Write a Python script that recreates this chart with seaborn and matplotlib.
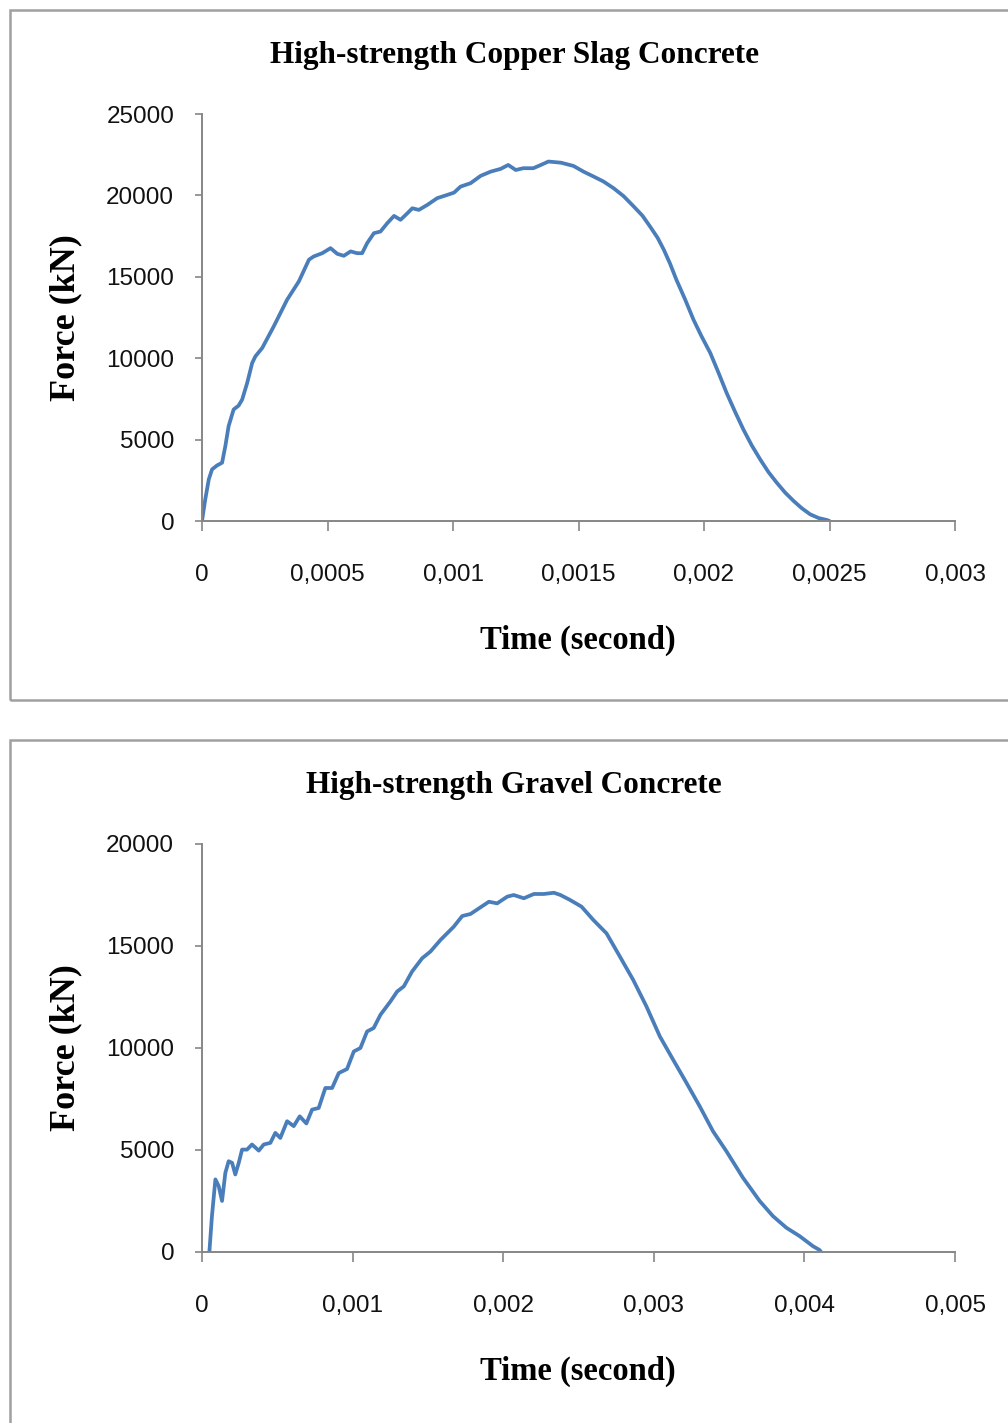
import matplotlib
matplotlib.use("Agg")
import matplotlib.pyplot as plt
from matplotlib.patches import Rectangle
from matplotlib.ticker import FixedLocator
import pandas as pd
import seaborn as sns

# Copper slag concrete: impact force history
cs_time = [0, 1.3e-5, 2.7e-5, 4.0e-5, 6.0e-5, 8.0e-5, 9.3e-5, 1.06e-4, 1.26e-4, 1.46e-4,
           1.60e-4, 1.80e-4, 2.00e-4, 2.13e-4, 2.40e-4, 2.86e-4, 3.39e-4, 3.86e-4, 4.26e-4,
           4.45e-4, 4.79e-4, 5.12e-4, 5.39e-4, 5.65e-4, 5.92e-4, 6.18e-4, 6.38e-4, 6.58e-4,
           6.85e-4, 7.11e-4, 7.38e-4, 7.65e-4, 7.91e-4, 8.18e-4, 8.38e-4, 8.64e-4, 8.98e-4,
           9.37e-4, 9.77e-4, 1.004e-3, 1.03e-3, 1.07e-3, 1.11e-3, 1.15e-3, 1.19e-3, 1.22e-3,
           1.25e-3, 1.28e-3, 1.32e-3, 1.35e-3, 1.38e-3, 1.43e-3, 1.48e-3, 1.52e-3, 1.56e-3,
           1.60e-3, 1.64e-3, 1.68e-3, 1.72e-3, 1.755e-3, 1.785e-3, 1.815e-3, 1.84e-3, 1.865e-3,
           1.89e-3, 1.925e-3, 1.958e-3, 1.99e-3, 2.025e-3, 2.058e-3, 2.09e-3, 2.124e-3,
           2.157e-3, 2.19e-3, 2.224e-3, 2.257e-3, 2.29e-3, 2.323e-3, 2.357e-3, 2.39e-3,
           2.423e-3, 2.457e-3, 2.49e-3, 2.50e-3]
cs_force = [0, 1330, 2555, 3170, 3414, 3580, 4600, 5825, 6850, 7090,
            7460, 8480, 9710, 10120, 10630, 11960, 13590, 14720, 16050,
            16250, 16450, 16760, 16410, 16290, 16560, 16450, 16450, 17070,
            17680, 17780, 18290, 18740, 18500, 18900, 19210, 19110, 19420,
            19830, 20030, 20170, 20540, 20750, 21200, 21460, 21630, 21870,
            21560, 21670, 21670, 21870, 22080, 22010, 21810, 21460, 21160,
            20850, 20440, 19950, 19320, 18750, 18090, 17400, 16660, 15800,
            14820, 13600, 12370, 11350, 10320, 9100, 7870, 6700,
            5620, 4650, 3780, 3000, 2350, 1750, 1230, 780,
            410, 180, 60, 0]

# Gravel concrete: impact force history
gr_time = [4.9e-5, 6.6e-5, 8.9e-5, 1.11e-4, 1.33e-4, 1.55e-4, 1.77e-4, 2.00e-4, 2.21e-4,
           2.44e-4, 2.66e-4, 2.99e-4, 3.32e-4, 3.77e-4, 4.10e-4, 4.54e-4, 4.87e-4, 5.20e-4,
           5.65e-4, 6.09e-4, 6.49e-4, 6.93e-4, 7.31e-4, 7.75e-4, 8.19e-4, 8.64e-4, 9.08e-4,
           9.63e-4, 1.008e-3, 1.052e-3, 1.096e-3, 1.14e-3, 1.185e-3, 1.251e-3, 1.296e-3,
           1.34e-3, 1.395e-3, 1.462e-3, 1.517e-3, 1.584e-3, 1.672e-3, 1.728e-3, 1.783e-3,
           1.85e-3, 1.905e-3, 1.96e-3, 2.027e-3, 2.07e-3, 2.137e-3, 2.204e-3, 2.27e-3,
           2.337e-3, 2.38e-3, 2.443e-3, 2.52e-3, 2.598e-3, 2.686e-3, 2.775e-3, 2.863e-3,
           2.951e-3, 3.04e-3, 3.128e-3, 3.217e-3, 3.305e-3, 3.393e-3, 3.482e-3, 3.592e-3,
           3.703e-3, 3.791e-3, 3.88e-3, 3.968e-3, 4.056e-3, 4.10e-3, 4.111e-3]
gr_force = [0, 1760, 3560, 3230, 2500, 3880, 4450, 4370, 3800,
            4370, 5020, 5020, 5270, 4970, 5270, 5350, 5840, 5590,
            6410, 6170, 6650, 6300, 6980, 7060, 8040, 8040, 8770,
            8970, 9830, 10000, 10810, 10980, 11630, 12280, 12770,
            13020, 13750, 14400, 14730, 15300, 15950, 16470, 16570,
            16900, 17170, 17090, 17420, 17500, 17340, 17550, 17550,
            17610, 17500, 17260, 16930, 16280, 15620, 14480, 13340,
            12040, 10570, 9430, 8290, 7140, 5920, 4940, 3640,
            2500, 1760, 1190, 780, 290, 100, 0]

titles = ["High-strength Copper Slag Concrete", "High-strength Gravel Concrete"]
cs_xticks = [0, 0.0005, 0.001, 0.0015, 0.002, 0.0025, 0.003]
cs_xlabels = ["0", "0,0005", "0,001", "0,0015", "0,002", "0,0025", "0,003"]
cs_yticks = [0, 5000, 10000, 15000, 20000, 25000]
gr_xticks = [0, 0.001, 0.002, 0.003, 0.004, 0.005]
gr_xlabels = ["0", "0,001", "0,002", "0,003", "0,004", "0,005"]
gr_yticks = [0, 5000, 10000, 15000, 20000]

sns.set_theme(style="white")
plt.rcParams["font.family"] = ["Liberation Sans", "DejaVu Sans"]

W, H = 1008, 1423
fig = plt.figure(figsize=(W / 100, H / 100), dpi=100)
fig.patch.set_facecolor("white")

LINE = "#4A7EBB"
AXC = "#868686"
SERIF = ["Liberation Serif", "DejaVu Serif"]


def px_rect(x0, y0, x1, y1):
    return [x0 / W, 1 - y1 / H, (x1 - x0) / W, (y1 - y0) / H]


# panel frames
for (y0, y1) in [(10, 700), (740, 1430)]:
    fig.patches.append(Rectangle((10 / W, 1 - y1 / H), (1012 - 10) / W, (y1 - y0) / H,
                                 transform=fig.transFigure, fill=False,
                                 edgecolor="#A0A0A0", linewidth=1.8, zorder=0))

panels = [
    dict(t=cs_time, f=cs_force, xt=cs_xticks, xl=cs_xlabels, yt=cs_yticks,
         box=(202, 114, 955, 521), title_y=56, title=titles[0]),
    dict(t=gr_time, f=gr_force, xt=gr_xticks, xl=gr_xlabels, yt=gr_yticks,
         box=(202, 844, 955, 1252), title_y=786, title=titles[1]),
]

for p in panels:
    ax = fig.add_axes(px_rect(*p["box"]))
    df = pd.DataFrame({"Time": p["t"], "Force": p["f"]})
    sns.lineplot(data=df, x="Time", y="Force", ax=ax, color=LINE, linewidth=2.7,
                 sort=False, estimator=None)
    ax.set_xlim(p["xt"][0], p["xt"][-1])
    ax.set_ylim(p["yt"][0], p["yt"][-1])
    ax.xaxis.set_major_locator(FixedLocator(p["xt"]))
    ax.set_xticklabels(p["xl"])
    ax.yaxis.set_major_locator(FixedLocator(p["yt"]))
    ax.set_yticklabels([str(v) for v in p["yt"]])
    for s in ["top", "right"]:
        ax.spines[s].set_visible(False)
    for s in ["left", "bottom"]:
        ax.spines[s].set_color(AXC)
        ax.spines[s].set_linewidth(1.4)
    ax.tick_params(axis="x", direction="out", length=7, width=1.2, color=AXC,
                   labelsize=17.5, labelcolor="#111111", pad=24, bottom=True)
    ax.tick_params(axis="y", direction="out", length=5, width=1.2, color=AXC,
                   labelsize=17.5, labelcolor="#111111", pad=15, left=True)
    ax.set_xlabel("")
    ax.set_ylabel("")
    ax.grid(False)
    ax.set_facecolor("none")
    x0, y0, x1, y1 = p["box"]
    fig.text(514 / W, 1 - p["title_y"] / H, p["title"], ha="center", va="center",
             family=SERIF, fontweight="bold", fontsize=22.5, color="black")
    fig.text(578 / W, 1 - (y1 + 119) / H, "Time (second)", ha="center", va="center",
             family=SERIF, fontweight="bold", fontsize=23.5, color="black")
    fig.text(66 / W, 1 - ((y0 + y1) / 2) / H, "Force (kN)", ha="center", va="center",
             rotation=90, family=SERIF, fontweight="bold", fontsize=26, color="black")

fig.savefig("out.png", dpi=100, facecolor="white")
